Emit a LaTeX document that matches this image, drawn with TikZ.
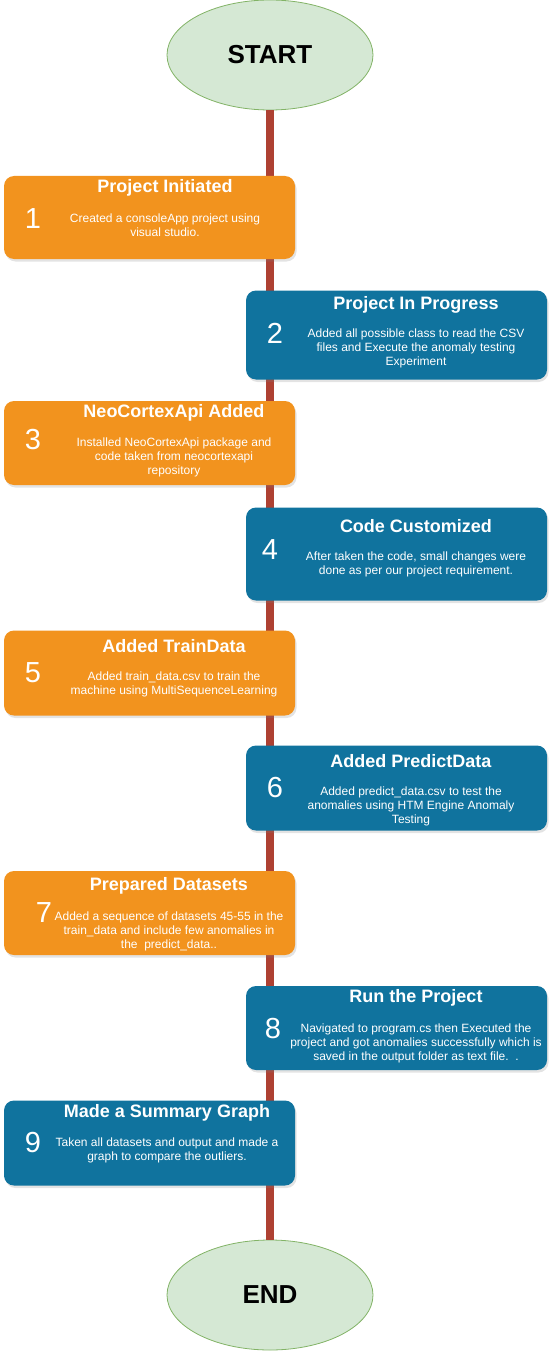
\documentclass[tikz,border=0pt]{standalone}
\usepackage{fontspec}
\setmainfont{Liberation Sans}
\usetikzlibrary{shapes.geometric,shadows}
\definecolor{stepOrange}{HTML}{F2931E}
\definecolor{stepBlue}{HTML}{10739E}
\definecolor{lineRed}{HTML}{AE4132}
\definecolor{termFill}{HTML}{D5E8D4}
\definecolor{termDraw}{HTML}{82B366}
\begin{document}
\begin{tikzpicture}[
    x=1pt,y=-1pt,
    terminal/.style={ellipse,draw=termDraw,fill=termFill,line width=0.8pt,minimum width=206pt,minimum height=110pt,inner sep=0pt,font=\fontsize{26}{28}\selectfont\bfseries},
    timeline/.style={lineRed,line width=8.5pt},
    stepbox/.style={rectangle,rounded corners=10pt,inner sep=0pt,drop shadow={shadow xshift=1.5pt,shadow yshift=-2.5pt,opacity=0.22}},
    orangebox/.style={stepbox,fill=stepOrange,minimum width=291pt},
    bluebox/.style={stepbox,fill=stepBlue,minimum width=301pt},
    steptitle/.style={text=white,inner sep=0pt,font=\fontsize{18}{20}\selectfont\bfseries},
    stepnum/.style={text=white,inner sep=0pt,font=\fontsize{29}{30}\selectfont},
    stepbody/.style={text=white,inner sep=0pt,align=center,font=\fontsize{12}{14}\selectfont}
]
\useasboundingbox (0,0) rectangle (550,1351);

% Start and end
\node[terminal] (start) at (270,55) {START};
\node[terminal] (end) at (270,1295) {END};

% Timeline
\draw[timeline] (start) -- (end);

% Step 1
\node[orangebox,minimum height=83pt] (s1) at (149.5,217.5) {};
\node[steptitle] (t1) at (165,188) {Project Initiated};
\node[stepnum] (n1) at (33,219) {1};
\node[stepbody] (d1) at (165,225) {Created a consoleApp project using\\visual studio.};

% Step 2
\node[bluebox,minimum height=89pt] (s2) at (396.5,335) {};
\node[steptitle] (t2) at (416,305) {Project In Progress};
\node[stepnum] (n2) at (275,333) {2};
\node[stepbody] (d2) at (416,348) {Added all possible class to read the CSV\\files and Execute the anomaly testing\\Experiment};

% Step 3
\node[orangebox,minimum height=84pt] (s3) at (149.5,443) {};
\node[steptitle] (t3) at (174,413) {NeoCortexApi Added};
\node[stepnum] (n3) at (33,440) {3};
\node[stepbody] (d3) at (174,457) {Installed NeoCortexApi package and\\code taken from neocortexapi\\repository};

% Step 4
\node[bluebox,minimum height=93pt] (s4) at (396.5,554) {};
\node[steptitle] (t4) at (416,526) {Code Customized};
\node[stepnum] (n4) at (270,550) {4};
\node[stepbody] (d4) at (416,564) {After taken the code, small changes were\\done as per our project requirement.};

% Step 5
\node[orangebox,minimum height=85pt] (s5) at (149.5,673) {};
\node[steptitle] (t5) at (174,646) {Added TrainData};
\node[stepnum] (n5) at (33,673) {5};
\node[stepbody] (d5) at (174,684) {Added train\_data.csv to train the\\machine using MultiSequenceLearning};

% Step 6
\node[bluebox,minimum height=85pt] (s6) at (396.5,788) {};
\node[steptitle] (t6) at (411,761) {Added PredictData};
\node[stepnum] (n6) at (275,788) {6};
\node[stepbody] (d6) at (411,806) {Added predict\_data.csv to test the\\anomalies using HTM Engine Anomaly\\Testing};

% Step 7
\node[orangebox,minimum height=84pt] (s7) at (149.5,913) {};
\node[steptitle] (t7) at (169,886) {Prepared Datasets};
\node[stepnum] (n7) at (44,913) {7};
\node[stepbody] (d7) at (169,931) {Added a sequence of datasets 45-55 in the\\train\_data and include few anomalies in\\the~~predict\_data..};

% Step 8
\node[bluebox,minimum height=84pt] (s8) at (396.5,1028) {};
\node[steptitle] (t8) at (416,998) {Run the Project};
\node[stepnum] (n8) at (273,1029) {8};
\node[stepbody] (d8) at (416,1043) {Navigated to program.cs then Executed the\\project and got anomalies successfully which is\\saved in the output folder as text file.~~.};

% Step 9
\node[orangebox,fill=stepBlue,minimum height=85pt] (s9) at (149.5,1143) {};
\node[steptitle] (t9) at (167,1113) {Made a Summary Graph};
\node[stepnum] (n9) at (33,1143) {9};
\node[stepbody] (d9) at (167,1150) {Taken all datasets and output and made a\\graph to compare the outliers.};

\end{tikzpicture}
\end{document}
